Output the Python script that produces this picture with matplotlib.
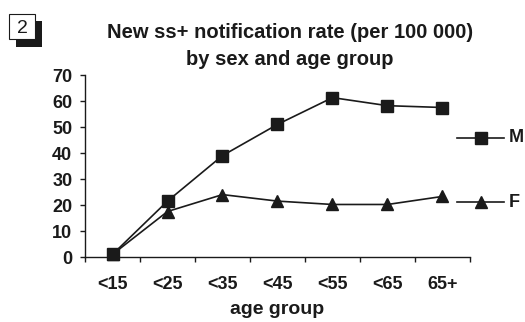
import matplotlib.pyplot as plt
from matplotlib.patches import Rectangle

plt.rcParams["font.family"] = ["Liberation Sans", "DejaVu Sans"]

# Data
age_groups = ["<15", "<25", "<35", "<45", "<55", "<65", "65+"]
male_rate = [1, 21.5, 39, 51, 61.3, 58.2, 57.5]
female_rate = [1, 17.5, 24, 21.5, 20.2, 20.2, 23.3]

INK = "#1a1a1a"
W, H = 525, 322

fig = plt.figure(figsize=(W / 100, H / 100), dpi=100)
ax = fig.add_axes([85 / W, 1 - 257 / H, 385 / W, 182 / H])

x = range(len(age_groups))
ax.plot(x, male_rate, "-s", color=INK, lw=1.2, markersize=8.6,
        markerfacecolor=INK, clip_on=False, zorder=3)
ax.plot(x, female_rate, "-^", color=INK, lw=1.2, markersize=9,
        markerfacecolor=INK, clip_on=False, zorder=3)

ax.set_xlim(-0.5, len(age_groups) - 0.5)
ax.set_ylim(0, 70)
ax.set_yticks(range(0, 71, 10))

# boundary ticks between groups, labels at centres
ax.set_xticks([i - 0.5 for i in range(len(age_groups) + 1)])
ax.set_xticklabels([])
ax.set_xticks(list(x), minor=True)
ax.set_xticklabels(age_groups, minor=True, fontsize=13, fontweight="bold",
                   color=INK)
ax.tick_params(axis="x", which="minor", length=0, pad=13.5)
ax.tick_params(axis="x", which="major", length=3.6, width=1, color=INK,
               direction="out")
ax.tick_params(axis="y", length=3.6, width=1, color=INK, direction="out",
               pad=5.5, labelcolor=INK)
for lab in ax.get_yticklabels():
    lab.set_fontsize(13)
    lab.set_fontweight("bold")

for side in ["top", "right"]:
    ax.spines[side].set_visible(False)
for side in ["left", "bottom"]:
    ax.spines[side].set_linewidth(1)
    ax.spines[side].set_color(INK)

ax.set_xlabel("age group", fontsize=14, fontweight="bold", labelpad=6,
              color=INK)

# legend entries on the right
for y_pix, marker, msize, label in [(137.7, "s", 8.6, "M"), (202.3, "^", 9, "F")]:
    fy = 1 - y_pix / H
    fig.add_artist(plt.Line2D([457 / W, 504 / W], [fy, fy], color=INK,
                              lw=1.2, transform=fig.transFigure))
    fig.add_artist(plt.Line2D([480.5 / W], [fy], marker=marker,
                              markersize=msize, color=INK,
                              transform=fig.transFigure))
    fig.text(509 / W, fy, label, fontsize=13, fontweight="bold",
             va="center", ha="left", color=INK)

fig.text(290 / W, 1 - 37.7 / H, "New ss+ notification rate (per 100 000)",
         fontsize=14.5, fontweight="bold", ha="center", va="baseline",
         color=INK)
fig.text(290 / W, 1 - 65 / H, "by sex and age group",
         fontsize=14.5, fontweight="bold", ha="center", va="baseline",
         color=INK)

# panel number box with shadow
fig.add_artist(Rectangle((16 / W, 1 - 47 / H), 26 / W, 26 / H,
                         transform=fig.transFigure, facecolor=INK,
                         edgecolor="none"))
fig.add_artist(Rectangle((9 / W, 1 - 39 / H), 26 / W, 25 / H,
                         transform=fig.transFigure, facecolor="white",
                         edgecolor=INK, lw=0.8))
fig.text(22 / W, 1 - 33 / H, "2", fontsize=14, ha="center", va="baseline",
         color=INK)

fig.savefig("out.png", dpi=100)
